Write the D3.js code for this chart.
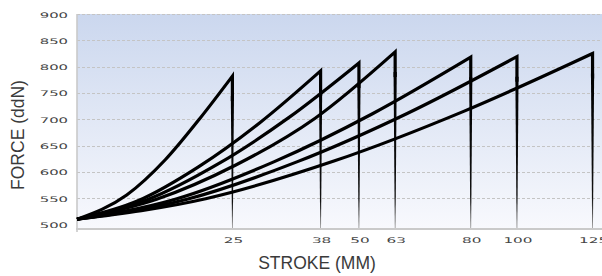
<!DOCTYPE html>
<html>
<head>
<meta charset="utf-8">
<script src="https://cdn.jsdelivr.net/npm/d3@7"></script>
<style>
  body { margin: 0; background: #fff; }
  svg { display: block; }
</style>
</head>
<body>
<div id="chart"></div>
<script>
// stroke lengths (mm) shown on the x axis
const strokes = [25, 38, 50, 63, 80, 100, 125];
const forceTicks = [500, 550, 600, 650, 700, 750, 800, 850, 900];

// force curves: [stroke mm, force daN]
const curve25  = [[0, 510], [8, 556], [14.2, 623], [19.8, 702], [25, 782]];
const curve38  = [[0, 510], [9.8, 545], [19.6, 610], [29.0, 693], [38, 792]];
const curve50  = [[0, 510], [11.3, 547], [22.7, 615], [33.3, 703], [50, 807]];
const curve63  = [[0, 510], [12.8, 548], [25.5, 613], [37.2, 702], [63, 828]];
const curve80  = [[0, 510], [15.8, 548], [31.1, 619], [54.7, 710], [80, 818]];
const curve100 = [[0, 510], [17.7, 548], [34.5, 619], [65.7, 711], [100, 819]];
const curve125 = [[0, 510], [20.7, 549], [42.4, 621], [78.4, 715], [125, 825]];
const curves = [curve25, curve38, curve50, curve63, curve80, curve100, curve125];

const width = 602, height = 276;
const margin = {top: 14, right: 0, bottom: 47, left: 77};
const plotW = width - margin.left - margin.right;
const plotBottom = 229;

const svg = d3.select("#chart").append("svg")
  .attr("width", width)
  .attr("height", height);

const defs = svg.append("defs");
const bg = defs.append("linearGradient")
  .attr("id", "bg").attr("x1", 0).attr("y1", 0).attr("x2", 0).attr("y2", 1);
bg.append("stop").attr("offset", "0%").attr("stop-color", "#cbd7ee");
bg.append("stop").attr("offset", "100%").attr("stop-color", "#f8f9fd");

const drop = defs.append("linearGradient")
  .attr("id", "drop").attr("x1", 0).attr("y1", 0).attr("x2", 0).attr("y2", 1);
drop.append("stop").attr("offset", "0%").attr("stop-color", "#000");
drop.append("stop").attr("offset", "80%").attr("stop-color", "#111");
drop.append("stop").attr("offset", "100%").attr("stop-color", "#999");

// the x axis is not linear: each stroke sits at its own place along the axis
const xFrac = [0, 0.296, 0.464, 0.537, 0.606, 0.750, 0.838, 0.982];
const x = d3.scaleLinear()
  .domain([0].concat(strokes))
  .range(xFrac.map(f => margin.left + f * plotW));

const y = d3.scaleLinear()
  .domain([500, 900])
  .range([224.5, margin.top]);

svg.append("rect")
  .attr("x", margin.left).attr("y", margin.top)
  .attr("width", plotW).attr("height", plotBottom - margin.top)
  .attr("fill", "url(#bg)");

// dashed grid
svg.append("g")
  .selectAll("line")
  .data(forceTicks.slice(1))
  .join("line")
  .attr("x1", margin.left).attr("x2", width)
  .attr("y1", d => Math.round(y(d)) + 0.5).attr("y2", d => Math.round(y(d)) + 0.5)
  .attr("stroke", "#c4c4c4")
  .attr("stroke-dasharray", "3,2");

// axis lines
svg.append("line")
  .attr("x1", margin.left).attr("x2", margin.left)
  .attr("y1", margin.top).attr("y2", plotBottom + 3)
  .attr("stroke", "#cacaca").attr("stroke-width", 1.6);
svg.append("line")
  .attr("x1", margin.left - 1).attr("x2", width)
  .attr("y1", plotBottom).attr("y2", plotBottom)
  .attr("stroke", "#cacaca").attr("stroke-width", 2);

const line = d3.line()
  .x(d => x(d[0]))
  .y(d => y(d[1]))
  .curve(d3.curveMonotoneX);

curves.forEach((c, i) => {
  const peak = c[c.length - 1];
  const px = x(peak[0]), py = y(peak[1]);
  svg.append("path")
    .attr("d", line(c) + "L" + px + "," + (py + 25))
    .attr("fill", "none")
    .attr("stroke", "#000")
    .attr("stroke-width", 3.2)
    .attr("stroke-linejoin", "miter")
    .attr("stroke-miterlimit", 10);
  // tapered drop back to the axis
  svg.append("path")
    .attr("d", `M${px - 1.6},${py + 20}L${px + 1.6},${py + 20}L${px + 0.4},${plotBottom - 1}L${px - 0.4},${plotBottom - 1}Z`)
    .attr("fill", "url(#drop)");
});

const tickFont = "'DejaVu Sans', sans-serif";

const yLabels = svg.append("g")
  .selectAll("text")
  .data(forceTicks)
  .join("text")
  .attr("x", 68)
  .attr("y", d => y(d) + 3.5)
  .attr("text-anchor", "end")
  .attr("font-family", tickFont)
  .attr("font-size", 7.6)
  .attr("fill", "#444")
  .text(d => d);

const xLabels = svg.append("g")
  .selectAll("text")
  .data(strokes)
  .join("text")
  .attr("x", d => x(d) + 1)
  .attr("y", 243)
  .attr("text-anchor", "middle")
  .attr("font-family", tickFont)
  .attr("font-size", 7.8)
  .attr("fill", "#444")
  .text(d => d);

// the original tick font is a wide, extended face: stretch the glyphs
[yLabels, xLabels].forEach(sel => sel.each(function () {
  const w = this.getComputedTextLength();
  d3.select(this).attr("textLength", w * 1.95).attr("lengthAdjust", "spacingAndGlyphs");
}));

svg.append("text")
  .attr("x", 317).attr("y", 269)
  .attr("text-anchor", "middle")
  .attr("font-family", "'Liberation Sans', Arial, sans-serif")
  .attr("font-size", 17.5)
  .attr("fill", "#3a3a3a")
  .text("STROKE (MM)");

svg.append("text")
  .attr("transform", "translate(24,135) rotate(-90)")
  .attr("text-anchor", "middle")
  .attr("font-family", "'Liberation Sans', Arial, sans-serif")
  .attr("font-size", 17.5)
  .attr("fill", "#3a3a3a")
  .text("FORCE (ddN)");
</script>
</body>
</html>
